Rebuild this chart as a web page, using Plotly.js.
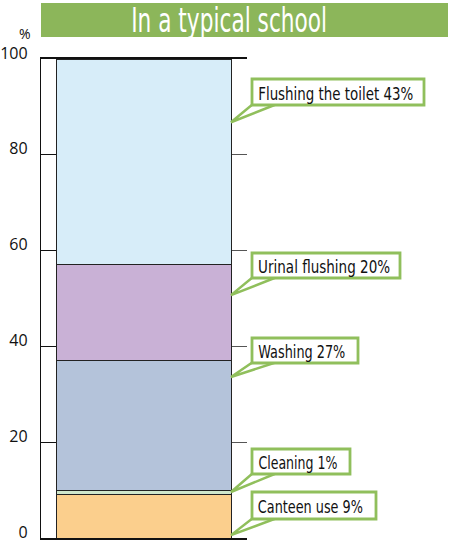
<!DOCTYPE html>
<html>
<head>
<meta charset="utf-8">
<script src="https://cdn.plot.ly/plotly-3.0.1.min.js"></script>
<style>html,body{margin:0;padding:0;background:#fff;}#chart{width:449px;height:542px;}</style>
</head>
<body>
<div id="chart"></div>
<script>
// ---- data ----
const categories = ['Canteen use', 'Cleaning', 'Washing', 'Urinal flushing', 'Flushing the toilet'];
const values = [9, 1, 27, 20, 43];
const colors = ['#fbcf8d', '#cfe7cb', '#b4c3da', '#c9b1d6', '#d7edf9'];
const yTicks = [0, 20, 40, 60, 80, 100];
const chartTitle = 'In a typical school';
const unitLabel = '%';

// ---- layout geometry (pixels) ----
const W = 449, H = 542;
const PL = 41, PR = 247, PT = 59, PB = 538;
const pw = PR - PL, ph = PB - PT;
const X = px => (px - PL) / pw;
const Y = py => (PB - py) / ph;
const green = '#90bf5c';
const narrow = 'Liberation Sans Narrow, DejaVu Sans Condensed, Roboto, sans-serif';

// callout placement: box top/bottom/right, text width, anchor value on axis
const callouts = [
  {top: 492, bottom: 519, right: 376, tw: 105, anchor: 0.6},
  {top: 449, bottom: 474, right: 350, tw: 79,  anchor: 9.6},
  {top: 338, bottom: 363, right: 358, tw: 87,  anchor: 33.6},
  {top: 253, bottom: 278, right: 400, tw: 132, anchor: 50.7},
  {top: 79,  bottom: 105, right: 424, tw: 155, anchor: 86.8}
];

const traces = categories.map((c, i) => ({
  type: 'bar',
  x: ['school'],
  y: [values[i]],
  name: c,
  width: 0.854,
  marker: {color: colors[i], line: {color: '#222', width: 1}},
  hoverinfo: 'name+y'
}));
traces.push({type: 'scatter', x: ['school'], y: [0], yaxis: 'y2', mode: 'none', showlegend: false, hoverinfo: 'skip'});

const shapes = [];
const annotations = [];
const targetWidths = {};

// title bar
shapes.push({type: 'rect', xref: 'paper', yref: 'paper', x0: X(41), x1: X(448), y0: Y(37), y1: Y(3),
  fillcolor: '#8cb65a', line: {width: 0}, layer: 'above'});
targetWidths[annotations.length] = 196;
annotations.push({xref: 'paper', yref: 'paper', x: X(229), y: Y(21), xanchor: 'center', yanchor: 'middle',
  text: chartTitle, showarrow: false, font: {family: narrow, size: 33, color: '#fff'}});

annotations.push({xref: 'paper', yref: 'paper', x: X(25), y: Y(33), xanchor: 'center', yanchor: 'middle',
  text: unitLabel, showarrow: false, font: {family: 'Open Sans, DejaVu Sans, sans-serif', size: 14, color: '#111'}});

callouts.forEach((c, i) => {
  const apexX = X(231), apexY = c.anchor / 100;
  shapes.push({type: 'path', xref: 'paper', yref: 'paper',
    path: `M ${apexX} ${apexY} L ${X(253)} ${Y(c.bottom - 1)} L ${X(277)} ${Y(c.bottom - 1)} Z`,
    fillcolor: '#fff', line: {color: green, width: 2.5}, layer: 'above'});
  shapes.push({type: 'rect', xref: 'paper', yref: 'paper', x0: X(252), x1: X(c.right), y0: Y(c.bottom), y1: Y(c.top),
    fillcolor: '#fff', line: {color: green, width: 2.8}, layer: 'above'});
  targetWidths[annotations.length] = c.tw;
  annotations.push({xref: 'paper', yref: 'paper', x: X(258 + c.tw / 2), y: Y((c.top + c.bottom) / 2 + 1),
    xanchor: 'center', yanchor: 'middle',
    text: categories[i] + ' ' + values[i] + '%', showarrow: false,
    font: {family: narrow, size: 18, color: '#111'}});
});

const layout = {
  width: W, height: H,
  margin: {l: PL, r: W - PR, t: PT, b: H - PB, pad: 0},
  paper_bgcolor: '#fff', plot_bgcolor: '#fff',
  barmode: 'stack',
  showlegend: false,
  xaxis: {type: 'category', range: [-0.5, 0.5], showticklabels: false, ticks: '', showgrid: false, zeroline: false,
    showline: true, linecolor: '#111', linewidth: 1.6, mirror: true, fixedrange: true},
  yaxis: {range: [0, 100], tickvals: yTicks, ticktext: yTicks.map(String), ticks: 'inside', ticklen: 15, tickwidth: 1.2,
    tickcolor: '#111', showline: true, linecolor: '#111', linewidth: 1.2, showgrid: false, zeroline: false,
    ticklabelshift: -6, ticklabelstandoff: 9, ticklabeloverflow: 'allow',
    tickfont: {family: 'Open Sans, DejaVu Sans, sans-serif', size: 16, color: '#111'}, fixedrange: true},
  yaxis2: {range: [0, 100], overlaying: 'y', side: 'right', tickvals: yTicks.slice(1, -1), ticks: 'inside', ticklen: 15,
    tickwidth: 1.2, tickcolor: '#555', showticklabels: false, showline: false, showgrid: false, zeroline: false, fixedrange: true},
  shapes: shapes,
  annotations: annotations
};

Plotly.newPlot('chart', traces, layout, {displayModeBar: false, staticPlot: true}).then(gd => {
  gd.querySelectorAll('g.annotation').forEach(g => {
    const idx = +g.getAttribute('data-index');
    const tw = targetWidths[idx];
    if (!tw) return;
    const t = g.querySelector('text.annotation-text');
    if (!t) return;
    const w = t.getComputedTextLength();
    if (Math.abs(w - tw) / tw > 0.03) {
      t.setAttribute('textLength', tw);
      t.setAttribute('lengthAdjust', 'spacingAndGlyphs');
    }
  });
});
</script>
</body>
</html>
